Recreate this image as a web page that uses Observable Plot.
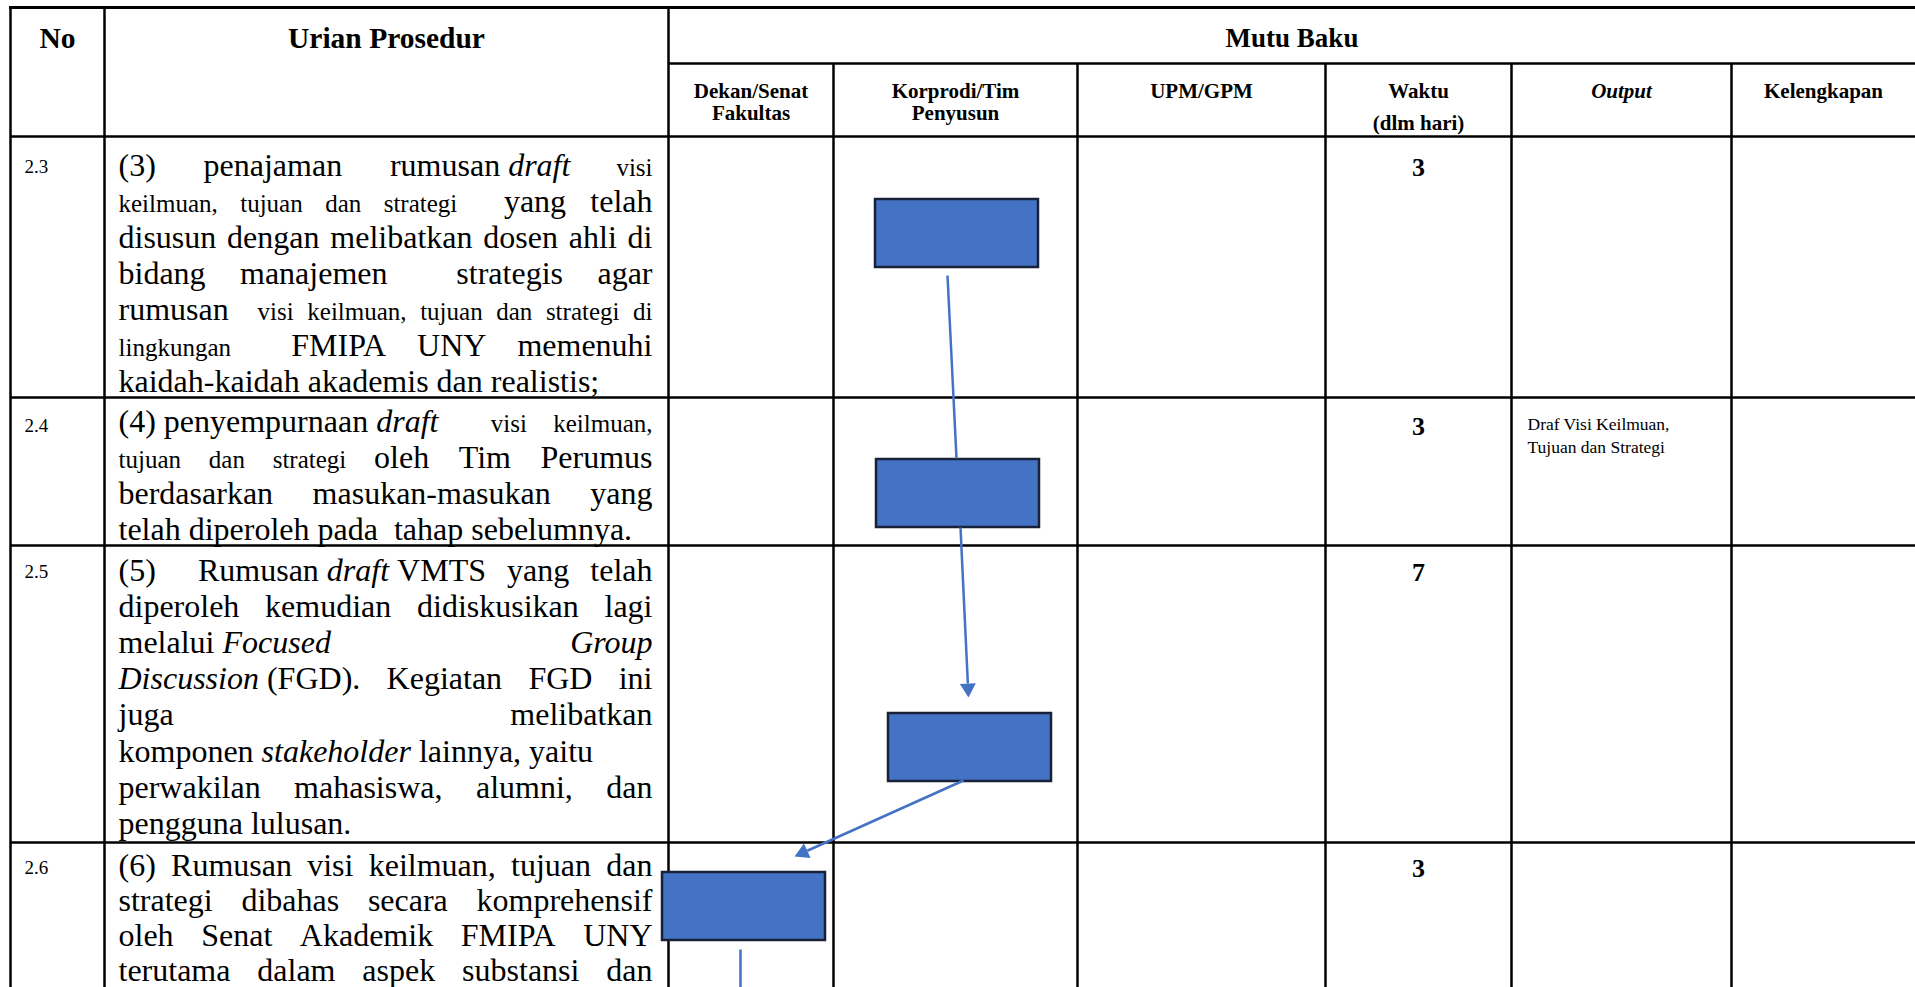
<!DOCTYPE html>
<html>
<head>
<meta charset="utf-8">
<script src="https://cdn.jsdelivr.net/npm/d3@7"></script>
<script src="https://cdn.jsdelivr.net/npm/@observablehq/plot@0.6"></script>
<style>
html, body { margin: 0; padding: 0; background: #ffffff; overflow: hidden; }
#chart svg { display: block; }
</style>
</head>
<body>
<div id="chart"></div>
<script>
// ================= DATA =================
const mainHeaders = ["No", "Urian Prosedur"];
const groupHeader = "Mutu Baku";
const subHeaders = [
  ["Dekan/Senat", "Fakultas"],
  ["Korprodi/Tim", "Penyusun"],
  ["UPM/GPM"],
  ["Waktu", "(dlm hari)"],
  ["Output"],
  ["Kelengkapan"]
];
const subHeaderItalic = [false, false, false, false, true, false];

const stepNo = ["2.3", "2.4", "2.5", "2.6"];
// Each line: j = justified, r = runs of [text, style]  (L = regular, I = italic, S = small)
const stepLines = [
  [
    {j: 1, r: [["(3) penajaman rumusan\u00a0", "L"], ["draft", "I"], [" visi", "S"]]},
    {j: 1, r: [["keilmuan, tujuan dan strategi ", "S"], [" yang telah", "L"]]},
    {j: 1, r: [["disusun dengan melibatkan dosen ahli di", "L"]]},
    {j: 1, r: [["bidang manajemen  strategis agar", "L"]]},
    {j: 1, r: [["rumusan ", "L"], [" visi keilmuan, tujuan dan strategi di", "S"]]},
    {j: 1, r: [["lingkungan ", "S"], [" FMIPA UNY memenuhi", "L"]]},
    {j: 0, r: [["kaidah-kaidah akademis dan realistis;", "L"]]}
  ],
  [
    {j: 1, r: [["(4)\u00a0penyempurnaan\u00a0", "L"], ["draft", "I"], ["  visi keilmuan,", "S"]]},
    {j: 1, r: [["tujuan dan strategi ", "S"], ["oleh Tim Perumus", "L"]]},
    {j: 1, r: [["berdasarkan masukan-masukan yang", "L"]]},
    {j: 0, r: [["telah diperoleh pada  tahap sebelumnya.", "L"]]}
  ],
  [
    {j: 1, r: [["(5)  Rumusan\u00a0", "L"], ["draft", "I"], ["\u00a0VMTS yang telah", "L"]]},
    {j: 1, r: [["diperoleh kemudian didiskusikan lagi", "L"]]},
    {j: 1, r: [["melalui\u00a0", "L"], ["Focused Group", "I"]]},
    {j: 1, r: [["Discussion", "I"], ["\u00a0(FGD). Kegiatan FGD ini", "L"]]},
    {j: 1, r: [["juga melibatkan", "L"]]},
    {j: 0, r: [["komponen ", "L"], ["stakeholder", "I"], [" lainnya, yaitu", "L"]]},
    {j: 1, r: [["perwakilan mahasiswa, alumni, dan", "L"]]},
    {j: 0, r: [["pengguna lulusan.", "L"]]}
  ],
  [
    {j: 1, r: [["(6) Rumusan visi keilmuan, tujuan dan", "L"]]},
    {j: 1, r: [["strategi dibahas secara komprehensif", "L"]]},
    {j: 1, r: [["oleh Senat Akademik FMIPA UNY", "L"]]},
    {j: 1, r: [["terutama dalam aspek substansi dan", "L"]]}
  ]
];
const waktu = ["3", "3", "7", "3"];
const outputLines = [[], ["Draf Visi Keilmuan,", "Tujuan dan Strategi"], [], []];

// Flow: actor column of each step's box (0 Dekan/Senat, 1 Korprodi/Tim, 2 UPM/GPM)
const flowActor = [1, 1, 1, 0];
const flowNext = [1, 2, 3, null];          // index of the next step (null = continues below)
const flowHead = [false, true, true, false];

// ================= LAYOUT =================
const W = 1915, H = 987;
const colX = [10, 104, 668, 833, 1077, 1325, 1511, 1731, W];
const rowY = [7, 63, 136, 397, 545, 842, H];
const FAM = "Liberation Serif";
const SZ = {L: 32, I: 32, S: 25};
const textX0 = 118, textX1 = 652;
const firstBase = [39, 34, 35, 33];
const labelBase = [36, 34, 32, 31];
const lineGap = [36, 36, 36.2, 35];
const boxW = 163, boxH = 68;
const boxOff = [[42, 63], [43, 62], [55, 168], [-6, 30]];            // offset within actor cell
const edgeOff = [[-9.5, 8, -1.5, -1], [2.5, 0, -1.5, -16], [-6.5, -1, 50.5, -16], [-3.5, 9, 0, 0]];
const BLUE = "#4472C4", EDGE = "#172238";
const headLen = 14, headW = 16;

// ---------- text measuring & justification ----------
const ctx = document.createElement("canvas").getContext("2d");
function fontOf(st) { return `${st === "I" ? "italic " : ""}${SZ[st]}px "${FAM}"`; }
function tw(t, st) { ctx.font = fontOf(st); return ctx.measureText(t).width; }

function layoutLine(runs, justify, x0, x1, y) {
  const pieces = [];
  for (const [txt, st] of runs) {
    for (const tok of txt.split(/( +)/)) {
      if (!tok) continue;
      if (tok[0] === " ") pieces.push({gap: true, n: tok.length, w: tok.length * tw(" ", st)});
      else pieces.push({gap: false, text: tok, style: st, w: tw(tok, st)});
    }
  }
  while (pieces.length && pieces[0].gap) pieces.shift();
  while (pieces.length && pieces[pieces.length - 1].gap) pieces.pop();
  const natural = d3.sum(pieces, p => p.w);
  const nSp = d3.sum(pieces, p => p.gap ? p.n : 0);
  const extra = justify && nSp ? (x1 - x0 - natural) / nSp : 0;
  let x = x0;
  const out = [];
  for (const p of pieces) {
    if (p.gap) x += p.w + p.n * extra;
    else { out.push({x, y, text: p.text, style: p.style}); x += p.w; }
  }
  return out;
}

const words = [];
stepLines.forEach((lines, r) => {
  const top = rowY[r + 2];
  lines.forEach((ln, k) => {
    words.push(...layoutLine(ln.r, ln.j, textX0, textX1, top + firstBase[r] + k * lineGap[r]));
  });
});

// ---------- grid ----------
const vLines = [
  {x: colX[0], y1: rowY[0], y2: H},
  {x: colX[1], y1: rowY[0], y2: H},
  {x: colX[2], y1: rowY[0], y2: H},
  ...colX.slice(3, 8).map(x => ({x, y1: rowY[1], y2: H}))
];
const hLines = [
  {y: rowY[1], x1: colX[2], x2: W},
  ...rowY.slice(2, 6).map(y => ({y, x1: colX[0], x2: W}))
];

// ---------- headers ----------
const mainHead = mainHeaders.map((t, i) => ({t, x: (colX[i] + colX[i + 1]) / 2, y: 47}));
const groupHead = [{t: groupHeader, x: (colX[2] + colX[8]) / 2, y: 46}];
const subHead = [];
subHeaders.forEach((lines, i) => {
  const cx = (colX[i + 2] + colX[i + 3]) / 2;
  lines.forEach((t, k) => subHead.push({t, x: cx, y: 97 + k * (i === 3 ? 32 : 22), it: subHeaderItalic[i]}));
});

// ---------- row cells ----------
const labels = stepNo.map((t, r) => ({t, x: colX[0] + 14, y: rowY[r + 2] + labelBase[r]}));
const nums = waktu.map((t, r) => ({t, x: (colX[5] + colX[6]) / 2, y: rowY[r + 2] + labelBase[r] + 3}));
const outs = [];
outputLines.forEach((lines, r) => lines.forEach((t, k) => outs.push({t, x: colX[6] + 16, y: rowY[r + 2] + 32 + k * 23})));

// ---------- flow boxes & connectors ----------
const boxes = stepNo.map((s, r) => {
  const cx0 = colX[2 + flowActor[r]], cy0 = rowY[r + 2];
  const x1 = cx0 + boxOff[r][0], y1 = cy0 + boxOff[r][1];
  return {step: s, x1, y1, x2: x1 + boxW, y2: y1 + boxH};
});
const links = [], heads = [];
boxes.forEach((b, r) => {
  const o = edgeOff[r];
  const sx = (b.x1 + b.x2) / 2 + o[0], sy = b.y2 + o[1];
  let ex, ey;
  if (flowNext[r] == null) { ex = sx; ey = H + 10; }
  else { const t = boxes[flowNext[r]]; ex = (t.x1 + t.x2) / 2 + o[2]; ey = t.y1 + o[3]; }
  if (flowHead[r]) {
    const L = Math.hypot(ex - sx, ey - sy), ux = (ex - sx) / L, uy = (ey - sy) / L;
    const bx = ex - ux * headLen, by = ey - uy * headLen;
    heads.push({id: r, x: ex, y: ey}, {id: r, x: bx - uy * headW / 2, y: by + ux * headW / 2}, {id: r, x: bx + uy * headW / 2, y: by - ux * headW / 2});
    links.push({x1: sx, y1: sy, x2: bx, y2: by});
  } else links.push({x1: sx, y1: sy, x2: ex, y2: ey});
});

const txt = (data, o) => Plot.text(data, {x: "x", y: "y", text: "t", lineAnchor: "bottom", fill: "black", fontFamily: FAM, ...o});

const chart = Plot.plot({
  width: W, height: H, margin: 0,
  x: {domain: [0, W], range: [0, W], axis: null},
  y: {domain: [0, H], range: [0, H], axis: null},
  style: {background: "#ffffff"},
  marks: [
    Plot.ruleX(vLines, {x: "x", y1: "y1", y2: "y2", stroke: "black", strokeWidth: 2.5}),
    Plot.ruleY(hLines, {y: "y", x1: "x1", x2: "x2", stroke: "black", strokeWidth: 2.5}),
    Plot.ruleY([rowY[0]], {x1: colX[0] - 1, x2: W, stroke: "black", strokeWidth: 3}),
    Plot.rect(boxes, {x1: "x1", x2: "x2", y1: "y1", y2: "y2", fill: BLUE, stroke: EDGE, strokeWidth: 2.5}),
    Plot.link(links, {x1: "x1", y1: "y1", x2: "x2", y2: "y2", stroke: BLUE, strokeWidth: 2.5}),
    Plot.line(heads, {x: "x", y: "y", z: "id", fill: BLUE, stroke: "none"}),
    txt(mainHead, {fontSize: 29.5, fontWeight: "bold", textAnchor: "middle"}),
    txt(groupHead, {fontSize: 27, fontWeight: "bold", textAnchor: "middle"}),
    txt(subHead.filter(d => !d.it), {fontSize: 21, fontWeight: "bold", textAnchor: "middle"}),
    txt(subHead.filter(d => d.it), {fontSize: 21, fontWeight: "bold", fontStyle: "italic", textAnchor: "middle"}),
    txt(labels, {fontSize: 19, textAnchor: "start"}),
    txt(nums, {fontSize: 26, fontWeight: "bold", textAnchor: "middle"}),
    txt(outs, {fontSize: 17.5, textAnchor: "start"}),
    Plot.text(words.filter(d => d.style === "L"), {x: "x", y: "y", text: "text", lineAnchor: "bottom", textAnchor: "start", fill: "black", fontFamily: FAM, fontSize: SZ.L}),
    Plot.text(words.filter(d => d.style === "I"), {x: "x", y: "y", text: "text", lineAnchor: "bottom", textAnchor: "start", fill: "black", fontFamily: FAM, fontSize: SZ.I, fontStyle: "italic"}),
    Plot.text(words.filter(d => d.style === "S"), {x: "x", y: "y", text: "text", lineAnchor: "bottom", textAnchor: "start", fill: "black", fontFamily: FAM, fontSize: SZ.S})
  ]
});
document.getElementById("chart").appendChild(chart);
</script>
</body>
</html>
